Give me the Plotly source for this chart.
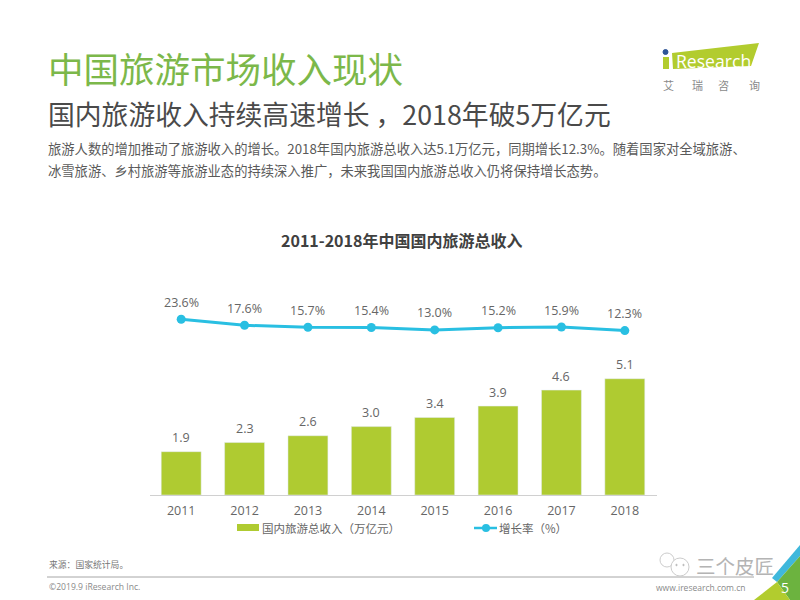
import plotly.graph_objects as go

years = ["2011", "2012", "2013", "2014", "2015", "2016", "2017", "2018"]
income = [1.9, 2.3, 2.6, 3.0, 3.4, 3.9, 4.6, 5.1]
growth = [23.6, 17.6, 15.7, 15.4, 13.0, 15.2, 15.9, 12.3]
income_name = "国内旅游总收入（万亿元）"
growth_name = "增长率（%）"
title_main = "中国旅游市场收入现状"
title_sub = "国内旅游收入持续高速增长 ，2018年破5万亿元"
body_lines = [
    "旅游人数的增加推动了旅游收入的增长。2018年国内旅游总收入达5.1万亿元，同期增长12.3%。随着国家对全域旅游、",
    "冰雪旅游、乡村旅游等旅游业态的持续深入推广，未来我国国内旅游总收入仍将保持增长态势。",
]
chart_title = "2011-2018年中国国内旅游总收入"
source_text = "来源：国家统计局。"
copyright_text = "©2019.9 iResearch Inc."
site_text = "www.iresearch.com.cn"
logo_cn = ["艾", "瑞", "咨", "询"]

W, H = 800, 600
CJK = "Noto Sans CJK SC"
MIX = "Open Sans, Noto Sans CJK SC"
LIME = "#afcb31"
CYAN = "#29bfe2"
GREY = "#666666"


def px(x):
    return x / W


def py(y):
    return 1 - y / H


positions = list(range(len(years)))

fig = go.Figure()
fig.add_trace(go.Bar(x=positions, y=income, name=income_name, marker_color=LIME, yaxis="y"))
fig.add_trace(go.Scatter(x=positions, y=growth, name=growth_name, mode="lines+markers", yaxis="y2",
                         line=dict(color=CYAN, width=3), marker=dict(size=9, color=CYAN)))

ann = []


def text(x, y, s, size, color=GREY, anchor="left", family=CJK):
    ann.append(dict(xref="paper", yref="paper", x=px(x), y=py(y), text=s, showarrow=False,
                    xanchor=anchor, yanchor="middle", align=anchor,
                    font=dict(size=size, color=color, family=family)))


text(46, 68, title_main, 35.5, "#7cb84a")
text(46, 113, title_sub, 26.8, "#4a4a4a")
text(46, 148, body_lines[0], 13.3, "#5a5a5a")
text(46, 170, body_lines[1], 13.3, "#5a5a5a")
text(401.5, 240, "<b>" + chart_title + "</b>", 16, "#404040", "center")
text(47, 564, source_text, 8.8, "#777777")
text(47, 587, copyright_text, 8.6, "#8a8a8a", family=MIX)
text(748, 587, site_text, 8.5, "#8a8a8a", "right", family=MIX)
text(785, 587, "5", 14, "#ffffff", "center", family=MIX)
text(674, 61, "Research", 17.6, "#ffffff", family=MIX)
for cx, ch in zip([668, 697, 723, 754], logo_cn):
    text(cx, 85, ch, 11, "#8a8a8a", "center")
text(735, 565, "三个皮匠", 19.5, "#b4b4b4", "center")
text(260, 528, income_name, 11.5, GREY)
text(497, 528, growth_name, 11.5, GREY)

for i, v in zip(positions, income):
    ann.append(dict(xref="x", yref="y", x=i, y=v, text=f"{v:.1f}", showarrow=False, yshift=14,
                    font=dict(size=12.5, color=GREY, family=MIX)))
for i, v in zip(positions, growth):
    ann.append(dict(xref="x", yref="y2", x=i, y=v, text=f"{v:.1f}%", showarrow=False, yshift=17,
                    font=dict(size=12.5, color=GREY, family=MIX)))


def poly(points, fill):
    p = "M" + " L".join(f"{px(x)},{py(y)}" for x, y in points) + " Z"
    return dict(type="path", xref="paper", yref="paper", path=p, fillcolor=fill, line_width=0, layer="below")


def circle(cx, cy, r, fill, edge):
    return dict(type="circle", xref="paper", yref="paper", x0=px(cx - r), x1=px(cx + r), y0=py(cy + r), y1=py(cy - r),
                fillcolor=fill, line=dict(color=edge, width=1), layer="below")


shapes = [
    poly([(672, 53), (759, 43), (751, 66), (673, 69)], "#b2cc2e"),
    poly([(663, 57), (669, 57), (669, 69), (663, 69)], "#b2cc2e"),
    circle(665.5, 52, 2.5, "#2f5597", "#2f5597"),
    dict(type="line", xref="paper", yref="paper", x0=px(47), x1=px(754), y0=py(577), y1=py(577),
         line=dict(color="#a6a6a6", width=1), layer="below"),
    circle(667, 560, 7, "#ffffff", "#cccccc"),
    circle(680, 567, 9, "#ffffff", "#cccccc"),
    circle(676.5, 565, 0.7, "#bbbbbb", "#bbbbbb"),
    circle(683.5, 565, 0.7, "#bbbbbb", "#bbbbbb"),
    poly([(800, 545), (772, 578), (777, 582), (800, 556)], "#3fb8dc"),
    poly([(800, 556), (777, 582), (790, 600), (800, 600)], "#6cb33f"),
    poly([(777, 582), (754, 600), (790, 600)], "#b2cc2e"),
    # legend glyphs
    dict(type="rect", xref="paper", yref="paper", x0=px(237), x1=px(259), y0=py(531), y1=py(524),
         fillcolor=LIME, line_width=0),
    dict(type="line", xref="paper", yref="paper", x0=px(474), x1=px(497), y0=py(528), y1=py(528),
         line=dict(color=CYAN, width=2.5)),
    dict(type="circle", xref="paper", yref="paper", x0=px(482), x1=px(490), y0=py(532), y1=py(524),
         fillcolor=CYAN, line_width=0),
]

fig.update_layout(
    width=W, height=H, margin=dict(l=0, r=0, t=0, b=0), autosize=False, showlegend=False,
    paper_bgcolor="#ffffff", plot_bgcolor="rgba(0,0,0,0)", bargap=0.37,
    font=dict(family=MIX, color=GREY),
    xaxis=dict(domain=[px(149.5), px(656.5)], range=[-0.5, 7.5], tickmode="array", tickvals=positions, ticktext=years,
               showgrid=False, zeroline=False,
               showline=True, linecolor="#d0d0d0", linewidth=1, ticks="", ticklabelstandoff=4,
               tickfont=dict(size=12.5, color=GREY, family=MIX), anchor="y"),
    yaxis=dict(domain=[py(495), py(300)], range=[0, 195 / 22.8], visible=False),
    yaxis2=dict(domain=[py(495), py(300)], range=[23.6 - 175.7, 23.6 + 19.3], visible=False,
                overlaying="y", side="left"),
    annotations=ann, shapes=shapes,
)

fig.write_html("out.html", config={"displayModeBar": False}, post_script="document.body.style.margin='0';")
